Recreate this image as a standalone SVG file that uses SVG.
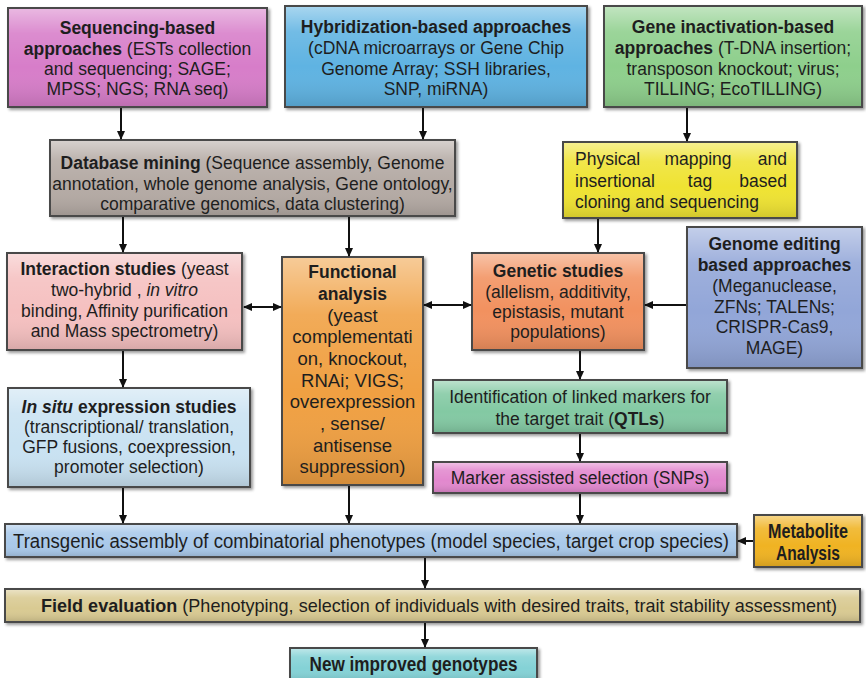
<svg xmlns="http://www.w3.org/2000/svg" width="866" height="678" viewBox="0 0 866 678">
<defs>
<style>
.box{stroke:#4a4a4a;stroke-width:2;filter:url(#sh)}
.gl{fill:url(#bev);stroke:none}
.t{font-family:"Liberation Sans",Arial,sans-serif;font-size:17.5px;fill:#1e1e1e;text-anchor:middle}
.b{font-weight:bold}
.i{font-style:italic}
.s{text-anchor:start}
.e{text-anchor:end}
.n{font-size:20px}
.c{stroke:#111;stroke-width:2;fill:none;marker-end:url(#ah)}
.d{marker-start:url(#ah)}
</style>
<marker id="ah" markerWidth="9" markerHeight="8" refX="8" refY="4" orient="auto-start-reverse" markerUnits="userSpaceOnUse"><path d="M0,0 L9,4 L0,8 z" fill="#111"/></marker>
<linearGradient id="bev" x1="0" y1="0" x2="0" y2="1">
<stop offset="0" stop-color="#fff" stop-opacity="0.45"/>
<stop offset="0.25" stop-color="#fff" stop-opacity="0.12"/>
<stop offset="0.6" stop-color="#fff" stop-opacity="0"/>
<stop offset="1" stop-color="#000" stop-opacity="0.12"/>
</linearGradient>
<filter id="sh" x="-5%" y="-5%" width="115%" height="125%"><feDropShadow dx="2" dy="2" stdDeviation="1.5" flood-color="#000" flood-opacity="0.4"/></filter>
</defs>
<rect width="866" height="678" fill="#fff"/>

<g id="n1">
<rect class="box" x="8" y="8" width="259" height="99" fill="#d77dc9"/><rect class="gl" x="9" y="9" width="257" height="97"/>
<text class="t" x="137.5" y="34"><tspan class="b">Sequencing-based</tspan></text>
<text class="t" x="137.5" y="55"><tspan class="b">approaches</tspan> (ESTs collection</text>
<text class="t" x="137.5" y="75">and sequencing; SAGE;</text>
<text class="t" x="137.5" y="95">MPSS; NGS; RNA seq)</text>
</g>
<g id="n2">
<rect class="box" x="285" y="6" width="302" height="101" fill="#5fb3e2"/><rect class="gl" x="286" y="7" width="300" height="99"/>
<text class="t b" x="436" y="33">Hybridization-based approaches</text>
<text class="t" x="436" y="54">(cDNA microarrays or Gene Chip</text>
<text class="t" x="436" y="75">Genome Array; SSH libraries,</text>
<text class="t" x="436" y="95">SNP, miRNA)</text>
</g>
<g id="n3">
<rect class="box" x="604" y="6" width="258" height="101" fill="#8ecf8c"/><rect class="gl" x="605" y="7" width="256" height="99"/>
<text class="t b" x="733" y="33">Gene inactivation-based</text>
<text class="t" x="733" y="54"><tspan class="b">approaches</tspan> (T-DNA insertion;</text>
<text class="t" x="733" y="75">transposon knockout; virus;</text>
<text class="t" x="733" y="95">TILLING; EcoTILLING)</text>
</g>
<g id="n4">
<rect class="box" x="50" y="140" width="405" height="76" fill="#b4aaa4"/><rect class="gl" x="51" y="141" width="403" height="74"/>
<text class="t" x="252.5" y="169"><tspan class="b">Database mining</tspan> (Sequence assembly, Genome</text>
<text class="t" x="252.5" y="190">annotation, whole genome analysis, Gene ontology,</text>
<text class="t" x="252.5" y="210">comparative genomics, data clustering)</text>
</g>
<g id="n5">
<rect class="box" x="563" y="142" width="234" height="76" fill="#efe332"/><rect class="gl" x="564" y="143" width="232" height="74"/>
<text class="t s" x="575" y="165">Physical</text><text class="t" x="698" y="165">mapping</text><text class="t e" x="787" y="165">and</text>
<text class="t s" x="575" y="187">insertional</text><text class="t" x="700" y="187">tag</text><text class="t e" x="787" y="187">based</text>
<text class="t s" x="575" y="208">cloning and sequencing</text>
</g>
<g id="n6">
<rect class="box" x="7" y="253" width="235" height="97" fill="#f5c0c0"/><rect class="gl" x="8" y="254" width="233" height="95"/>
<text class="t" x="124.5" y="275"><tspan class="b">Interaction studies</tspan> (yeast</text>
<text class="t" x="124.5" y="296">two-hybrid , <tspan class="i">in vitro</tspan></text>
<text class="t" x="124.5" y="317">binding, Affinity purification</text>
<text class="t" x="124.5" y="337">and Mass spectrometry)</text>
</g>
<g id="n7">
<rect class="box" x="282" y="257" width="141" height="228" fill="#f0a042"/><rect class="gl" x="283" y="258" width="139" height="226"/>
<text class="t b" x="352.5" y="278">Functional</text>
<text class="t b" x="352.5" y="300">analysis</text>
<text class="t" x="352.5" y="322" style="font-size:18.5px">(yeast</text>
<text class="t" x="352.5" y="343" style="font-size:18.5px">complementati</text>
<text class="t" x="352.5" y="365" style="font-size:18.5px">on, knockout,</text>
<text class="t" x="352.5" y="387" style="font-size:18.5px">RNAi; VIGS;</text>
<text class="t" x="352.5" y="408" style="font-size:18.5px">overexpression</text>
<text class="t" x="352.5" y="430" style="font-size:18.5px">, sense/</text>
<text class="t" x="352.5" y="452" style="font-size:18.5px">antisense</text>
<text class="t" x="352.5" y="473" style="font-size:18.5px">suppression)</text>
</g>
<g id="n8">
<rect class="box" x="472" y="253" width="172" height="97" fill="#f2915e"/><rect class="gl" x="473" y="254" width="170" height="95"/>
<text class="t b" x="558" y="277">Genetic studies</text>
<text class="t" x="558" y="298">(allelism, additivity,</text>
<text class="t" x="558" y="318">epistasis, mutant</text>
<text class="t" x="558" y="338">populations)</text>
</g>
<g id="n9">
<rect class="box" x="687" y="227" width="175" height="141" fill="#92a6d8"/><rect class="gl" x="688" y="228" width="173" height="139"/>
<text class="t b" x="774.5" y="250">Genome editing</text>
<text class="t b" x="774.5" y="271">based approaches</text>
<text class="t" x="774.5" y="292">(Meganuclease,</text>
<text class="t" x="774.5" y="313">ZFNs; TALENs;</text>
<text class="t" x="774.5" y="333">CRISPR-Cas9,</text>
<text class="t" x="774.5" y="354">MAGE)</text>
</g>
<g id="n10">
<rect class="box" x="433" y="380" width="294" height="53" fill="#83c9a3"/><rect class="gl" x="434" y="381" width="292" height="51"/>
<text class="t" x="580" y="403">Identification of linked markers for</text>
<text class="t" x="580" y="425">the target trait (<tspan class="b">QTLs</tspan>)</text>
</g>
<g id="n11">
<rect class="box" x="433" y="462" width="294" height="31" fill="#e288ce"/><rect class="gl" x="434" y="463" width="292" height="29"/>
<text class="t" x="580" y="484">Marker assisted selection (SNPs)</text>
</g>
<g id="n12">
<rect class="box" x="8" y="388" width="242" height="99" fill="#c9e2f2"/><rect class="gl" x="9" y="389" width="240" height="97"/>
<text class="t b" x="129" y="413"><tspan class="i">In situ</tspan> expression studies</text>
<text class="t" x="129" y="433">(transcriptional/ translation,</text>
<text class="t" x="129" y="453">GFP fusions, coexpression,</text>
<text class="t" x="129" y="473">promoter selection)</text>
</g>
<g id="n13">
<rect class="box" x="5" y="524" width="732" height="33" fill="#a9c9ea"/><rect class="gl" x="6" y="525" width="730" height="31"/>
<text class="t n" x="371" y="547.5" textLength="716" lengthAdjust="spacingAndGlyphs">Transgenic assembly of combinatorial phenotypes (model species, target crop species)</text>
</g>
<g id="n14">
<rect class="box" x="754" y="515" width="108" height="52" fill="#f0b323"/><rect class="gl" x="755" y="516" width="106" height="50"/>
<text class="t b n" x="808" y="538" textLength="80" lengthAdjust="spacingAndGlyphs">Metabolite</text>
<text class="t b n" x="808" y="560" textLength="64" lengthAdjust="spacingAndGlyphs">Analysis</text>
</g>
<g id="n15">
<rect class="box" x="5" y="589" width="855" height="33" fill="#d9ca92"/><rect class="gl" x="6" y="590" width="853" height="31"/>
<text class="t" x="439" y="612" style="font-size:18.5px" textLength="796" lengthAdjust="spacingAndGlyphs"><tspan class="b">Field evaluation</tspan> (Phenotyping, selection of individuals with desired traits, trait stability assessment)</text>
</g>
<g id="n16">
<rect class="box" x="290" y="648" width="247" height="34" fill="#84d2d6"/><rect class="gl" x="291" y="649" width="245" height="32"/>
<text class="t b n" x="413.5" y="671" textLength="208" lengthAdjust="spacingAndGlyphs">New improved genotypes</text>
</g>

<g id="connectors">
<path class="c" d="M121,108 V139"/>
<path class="c" d="M423,108 V139"/>
<path class="c" d="M687,108 V141"/>
<path class="c" d="M123,217 V252"/>
<path class="c" d="M349,217 V256"/>
<path class="c" d="M598,219 V252"/>
<path class="c d" d="M244,307 H281"/>
<path class="c d" d="M424,305 H471"/>
<path class="c" d="M686,305 H645"/>
<path class="c" d="M123,351 V387"/>
<path class="c" d="M580,351 V379"/>
<path class="c" d="M580,434 V461"/>
<path class="c" d="M123,488 V523"/>
<path class="c" d="M349,486 V523"/>
<path class="c" d="M580,494 V523"/>
<path class="c" d="M753,541 H738"/>
<path class="c" d="M425,558 V588"/>
<path class="c" d="M425,623 V647"/>
</g>
</svg>
